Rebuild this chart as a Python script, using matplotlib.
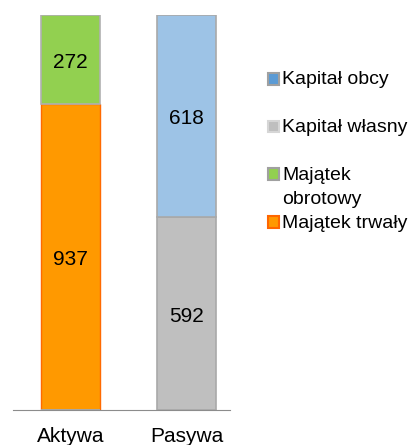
import matplotlib.pyplot as plt
from matplotlib.patches import Rectangle

plt.rcParams['font.family'] = ['Liberation Sans', 'DejaVu Sans']

# dane
kategorie = ['Aktywa', 'Pasywa']
majatek_trwaly = [937, 0]
majatek_obrotowy = [272, 0]
kapital_wlasny = [0, 592]
kapital_obcy = [0, 618]

fig = plt.figure(figsize=(4.09, 4.45), dpi=100)
ax = fig.add_axes([13 / 409, 35 / 445, 217 / 409, 395 / 445])

x = [0, 1]
w = 0.51
b1 = ax.bar(x, majatek_trwaly, w, color='#FF9900', edgecolor='#FF6A00', linewidth=1)
b2 = ax.bar(x, majatek_obrotowy, w, bottom=majatek_trwaly, color='#92D050',
            edgecolor='#B0B0B0', linewidth=1.2)
b3 = ax.bar(x, kapital_wlasny, w, color='#BFBFBF', edgecolor='#A9A9A9', linewidth=1.2)
b4 = ax.bar(x, kapital_obcy, w, bottom=kapital_wlasny, color='#9DC3E6',
            edgecolor='#A9A9A9', linewidth=1.2)

# etykiety wartości
for bars in (b1, b2, b3, b4):
    for r in bars:
        h = r.get_height()
        if h > 0:
            ax.annotate(str(int(h)), (r.get_x() + r.get_width() / 2, r.get_y() + h / 2),
                        xytext=(0, -2.2), textcoords='offset points',
                        ha='center', va='center', fontsize=15, color='black')

ax.set_xlim(-0.496, 1.375)
ax.set_ylim(0, 1209)
ax.set_xticks(x)
ax.set_xticklabels(kategorie, fontsize=15)
ax.tick_params(axis='x', length=0, pad=12)
ax.set_yticks([])
for s in ('top', 'right', 'left'):
    ax.spines[s].set_visible(False)
ax.spines['bottom'].set_color('#8C8C8C')

# legenda (ręcznie, jak w Excelu)
wpisy = [
    (['Kapitał obcy'], '#5B9BD5', '#A0A0A0', 79),
    (['Kapitał własny'], '#BFBFBF', '#D6D6D6', 126),
    (['Majątek', 'obrotowy'], '#92D050', '#A0A0A0', 174),
    (['Majątek trwały'], '#FF9900', '#FF6600', 222),
]
W, H = 409, 445
for linie, fc, ec, ypix in wpisy:
    fig.patches.append(Rectangle((268 / W, 1 - (ypix + 5.5) / H), 11 / W, 11 / H,
                                 facecolor=fc, edgecolor=ec, linewidth=1.5,
                                 transform=fig.transFigure))
    for i, t in enumerate(linie):
        fig.text(282 / W, 1 - (ypix + 1 + 24 * i) / H, t, fontsize=14,
                 ha='left', va='center')

fig.savefig('out.png', dpi=100)
